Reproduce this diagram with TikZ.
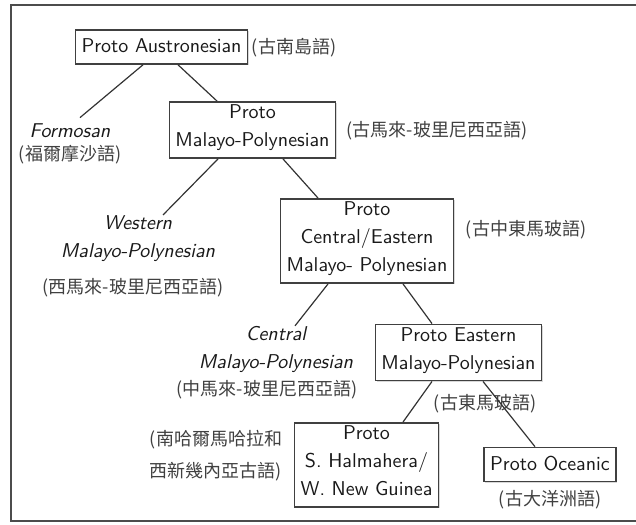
\documentclass[tikz,border=0pt]{standalone}
\usepackage{fontspec}
\newfontfamily\zhfont{Noto Sans CJK TC}
\usetikzlibrary{shadows}
\begin{document}
\begin{tikzpicture}[x=0.5pt,y=-0.5pt,
    proto/.style={draw=black!75, line width=0.8pt, fill=white, align=center,
      inner xsep=3pt, inner ysep=1.5pt, text=black!90,
      font=\sffamily\fontsize{10}{14}\selectfont,
      drop shadow={shadow xshift=0.6pt, shadow yshift=-0.6pt, fill=black!30},
      execute at begin node=\strut, execute at end node=\strut},
    gloss/.style={align=center, inner sep=0pt, text=black!90,
      font=\sffamily\itshape\fontsize{10}{14}\selectfont,
      execute at begin node=\strut, execute at end node=\strut},
    zh/.style={align=center, inner sep=0pt, text=black!75,
      font=\zhfont\fontsize{9}{16}\selectfont},
    branch/.style={draw=black!80, line width=0.6pt}]
    \useasboundingbox (0,0) rectangle (636,524);

    % 外框
    \draw[black!70, line width=1pt] (636,5) -- (11,5) -- (11,521) -- (636,521);

    % 古南島語
    \node[proto] (pa) at (161.5,47) {Proto Austronesian};
    \node[zh] (pazh) at (294,48) {(古南島語)};

    % 福爾摩沙語
    \node[gloss] (formosan) at (70,132) {Formosan};
    \node[zh] (formosanzh) at (70,155) {(福爾摩沙語)};

    % 古馬來-玻里尼西亞語
    \node[proto] (pmp) at (252.5,130) {Proto\\Malayo-Polynesian};
    \node[zh] (pmpzh) at (437,131) {(古馬來-玻里尼西亞語)};

    % 西馬來-玻里尼西亞語
    \node[gloss] (wmp) at (138,240.5) {Western\\Malayo-Polynesian};
    \node[zh] (wmpzh) at (133,288) {(西馬來-玻里尼西亞語)};

    % 古中東馬玻語
    \node[proto] (pcemp) at (367,241) {Proto\\Central/Eastern\\Malayo- Polynesian};
    \node[zh] (pcempzh) at (526,230) {(古中東馬玻語)};

    % 中馬來-玻里尼西亞語
    \node[gloss] (cmp) at (276,351.5) {Central\\Malayo-Polynesian};
    \node[zh] (cmpzh) at (267,390) {(中馬來-玻里尼西亞語)};

    % 古東馬玻語
    \node[proto] (pemp) at (458.5,352.5) {Proto Eastern\\Malayo-Polynesian};
    \node[zh] (pempzh) at (485,404) {(古東馬玻語)};

    % 南哈爾馬哈拉和西新幾內亞古語
    \node[proto] (pshwng) at (366.5,465) {Proto\\S. Halmahera/\\W. New Guinea};
    \node[zh] (pshwngzh) at (216,456) {(南哈爾馬哈拉和\\西新幾內亞古語)};

    % 古大洋洲語
    \node[proto] (po) at (550,464.5) {Proto Oceanic};
    \node[zh] (pozh) at (550,500) {(古大洋洲語)};

    % 分支
    \draw[branch] ([xshift=-9.25pt]pa.south) -- ([xshift=5pt]formosan.north);
    \draw[branch] ([xshift=8.25pt]pa.south) -- ([xshift=-17.75pt]pmp.north);
    \draw[branch] ([xshift=-17.25pt]pmp.south) -- ([xshift=12.5pt]wmp.north);
    \draw[branch] ([xshift=15.25pt]pmp.south) -- ([xshift=-24.5pt]pcemp.north);
    \draw[branch] ([xshift=-19.5pt]pcemp.south) -- ([xshift=9.5pt]cmp.north);
    \draw[branch] ([xshift=18pt]pcemp.south) -- ([xshift=-13.25pt]pemp.north);
    \draw[branch] ([xshift=-13.25pt]pemp.south) -- ([xshift=18.25pt]pshwng.north);
    \draw[branch] ([xshift=12.25pt]pemp.south) -- ([xshift=-7.5pt]po.north);
  \end{tikzpicture}
\end{document}
